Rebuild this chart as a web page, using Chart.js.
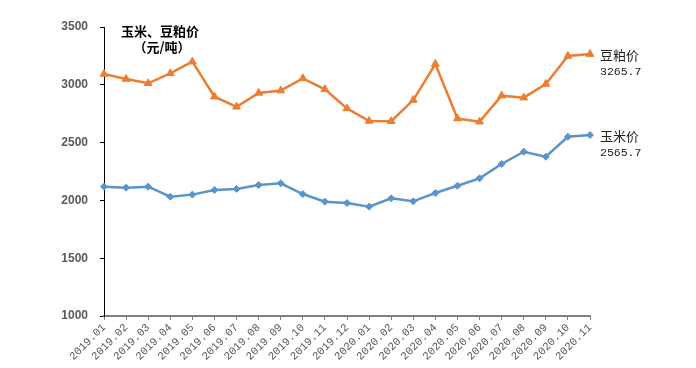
<!DOCTYPE html>
<html>
<head>
<meta charset="utf-8">
<script src="https://cdn.jsdelivr.net/npm/chart.js@4/dist/chart.umd.min.js"></script>
<style>
  html, body { margin: 0; padding: 0; background: #fff; }
  #wrap { width: 696px; height: 368px; }
</style>
</head>
<body>
<div id="wrap"><canvas id="myChart" width="696" height="368"></canvas></div>
<script>
var months = [
    '2019.01', '2019.02', '2019.03', '2019.04', '2019.05', '2019.06', '2019.07', '2019.08',
    '2019.09', '2019.10', '2019.11', '2019.12', '2020.01', '2020.02', '2020.03', '2020.04',
    '2020.05', '2020.06', '2020.07', '2020.08', '2020.09', '2020.10', '2020.11'
];
var soyMeal = [3093, 3050, 3013, 3099, 3200, 2897, 2810, 2930, 2950, 3056, 2961, 2796,
    2687, 2685, 2868, 3180, 2708, 2681, 2906, 2889, 3007, 3249, 3265.7];
var corn = [2119, 2110, 2119, 2032, 2050, 2090, 2099, 2133, 2148, 2055, 1989, 1977,
    1946, 2018, 1992, 2064, 2127, 2191, 2315, 2421, 2378, 2551, 2565.7];
var seriesNames = ['豆粕价', '玉米价'];
var yTicks = [1000, 1500, 2000, 2500, 3000, 3500];

var ORANGE = '#ed7d31';
var BLUE = '#5a94cc';

// title at top left and end-of-line labels
var textPlugin = {
    id: 'textPlugin',
    afterDraw: function (chart) {
        var ctx = chart.ctx;
        ctx.save();
        ctx.fillStyle = '#000';
        ctx.textAlign = 'center';
        ctx.textBaseline = 'middle';
        ctx.font = 'bold 13px "Noto Sans CJK SC"';
        ctx.fillText('玉米、豆粕价', 160, 31);
        ctx.fillText('（元/吨）', 162, 47);

        ctx.textAlign = 'left';
        chart.data.datasets.forEach(function (ds, i) {
            var meta = chart.getDatasetMeta(i);
            var pt = meta.data[meta.data.length - 1];
            var last = ds.data[ds.data.length - 1];
            ctx.fillStyle = '#222';
            ctx.font = '13px "Noto Sans CJK SC"';
            ctx.fillText(seriesNames[i], pt.x + 10, pt.y + 1);
            ctx.font = '11.5px "Liberation Mono"';
            ctx.fillText(last.toFixed(1), pt.x + 10, pt.y + 18);
        });
        ctx.restore();
    }
};

var ctx = document.getElementById('myChart');
var priceChart = new Chart(ctx, {
    type: 'line',
    plugins: [textPlugin],
    data: {
        labels: months,
        datasets: [{
            label: seriesNames[0],
            data: soyMeal,
            borderColor: ORANGE,
            backgroundColor: ORANGE,
            borderWidth: 2.5,
            pointStyle: 'triangle',
            pointRadius: 4.5,
            pointBorderWidth: 1,
            tension: 0
        }, {
            label: seriesNames[1],
            data: corn,
            borderColor: BLUE,
            backgroundColor: BLUE,
            borderWidth: 2.5,
            pointStyle: 'rectRot',
            pointRadius: 3.5,
            pointBorderWidth: 1,
            tension: 0
        }]
    },
    options: {
        responsive: false,
        animation: false,
        layout: { padding: { top: 27, right: 106, bottom: 0, left: 0 } },
        plugins: {
            legend: { display: false },
            tooltip: { enabled: false }
        },
        scales: {
            x: {
                offset: false,
                afterFit: function (scale) { scale.height = 52; },
                grid: { drawOnChartArea: false, tickLength: 4, color: '#808080', lineWidth: 1 },
                border: { color: '#808080', width: 2 },
                ticks: {
                    autoSkip: false,
                    maxRotation: 45,
                    minRotation: 45,
                    padding: 1,
                    color: '#595959',
                    font: { family: '"Liberation Mono"', size: 11 }
                }
            },
            y: {
                min: 1000,
                max: 3500,
                afterFit: function (scale) { scale.width = 104; },
                afterBuildTicks: function (scale) {
                    scale.ticks = yTicks.map(function (v) { return { value: v }; });
                },
                grid: { drawOnChartArea: false, tickLength: 4, color: '#000' },
                border: { color: '#000', width: 1 },
                ticks: {
                    padding: 12,
                    color: '#595959',
                    font: { family: '"Liberation Sans"', size: 12, weight: 'bold' },
                    callback: function (v) { return String(v); }
                }
            }
        }
    }
});
</script>
</body>
</html>
